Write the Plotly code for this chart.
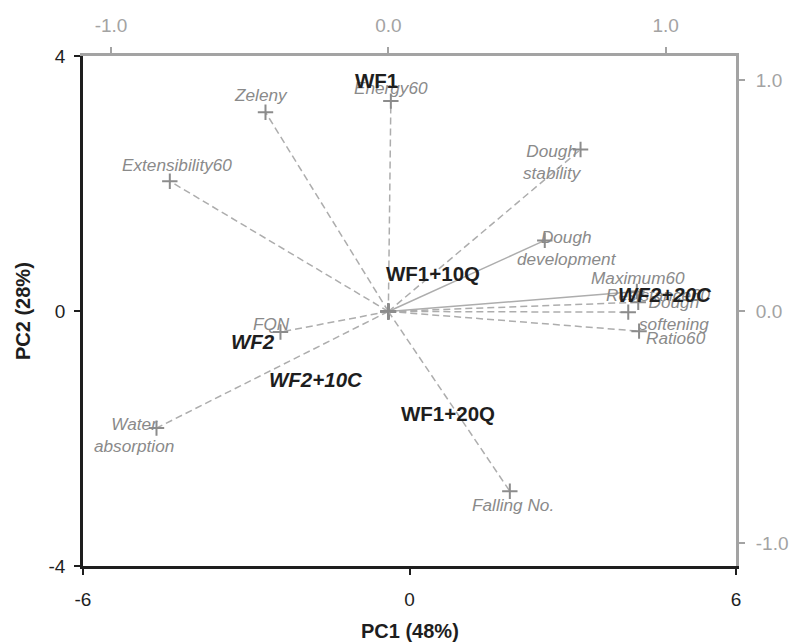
import plotly.graph_objects as go

# ---- Data ----
# Variable loadings (secondary axes, top/right)
var_names = ["Zeleny", "Energy60", "Extensibility60", "Dough<br>stability",
             "Dough<br>development", "Maximum60", "Resistance60",
             "Dough<br>softening", "Ratio60", "FQN", "Water<br>absorption",
             "Falling No."]
load_pc1 = [-0.443, 0.009, -0.788, 0.693, 0.564, 0.896, 0.901, 0.865, 0.904, -0.389, -0.836, 0.438]
load_pc2 = [0.861, 0.909, 0.563, 0.700, 0.307, 0.086, 0.040, -0.003, -0.085, -0.089, -0.504, -0.777]
solid_vars = ["Dough<br>development", "Maximum60"]
origin = [0.0, 0.0]

# Sample scores (primary axes, bottom/left)
samples = ["WF1", "WF1+10Q", "WF1+20Q", "WF2", "WF2+10C", "WF2+20C"]
score_pc1 = [-0.60, 0.44, 0.71, -2.87, -1.71, 4.69]
score_pc2 = [3.62, 0.59, -1.60, -0.48, -1.07, 0.26]

x_ticks = [-6, 0, 6]
y_ticks = [-4, 0, 4]
x2_ticks = [-1.0, 0.0, 1.0]
y2_ticks = [-1.0, 0.0, 1.0]

# ---- Styles ----
FONT = "Liberation Sans, Arial, sans-serif"
GRAY_LINE = "#adadad"
GRAY_MARK = "#8c8c8c"
GRAY_TEXT = "#8a8a8a"
AX_GRAY = "#a3a3a3"
BLACK = "#1e1e1e"

# label offsets (pixels) for loading labels
label_shift = {
    "Zeleny": (-4, 17), "Energy60": (0, 13), "Extensibility60": (7, 16),
    "Dough<br>stability": (-28, -13), "Dough<br>development": (22, -8),
    "Maximum60": (1, 14), "Resistance60": (20, 7), "Dough<br>softening": (46, -1),
    "Ratio60": (37, -7), "FQN": (-9, 8), "Water<br>absorption": (-23, -7),
    "Falling No.": (3, -14),
}

fig = go.Figure()

# invisible trace to activate primary axes
fig.add_trace(go.Scatter(x=score_pc1, y=score_pc2, mode="markers",
                         marker=dict(opacity=0), hoverinfo="skip",
                         showlegend=False, xaxis="x", yaxis="y"))

for name, lx, ly in zip(var_names, load_pc1, load_pc2):
    dash = "solid" if name in solid_vars else "7px,4px"
    fig.add_trace(go.Scatter(
        x=[origin[0], lx], y=[origin[1], ly], mode="lines+markers",
        line=dict(color=GRAY_LINE, width=1.5, dash=dash),
        marker=dict(symbol="cross-thin", size=11,
                    line=dict(color=GRAY_MARK, width=2), color=GRAY_MARK),
        showlegend=False, xaxis="x2", yaxis="y2", hoverinfo="skip"))

annotations = []
for name, lx, ly in zip(var_names, load_pc1, load_pc2):
    dx, dy = label_shift[name]
    annotations.append(dict(
        x=lx, y=ly, xref="x2", yref="y2", text="<i>%s</i>" % name,
        showarrow=False, xshift=dx, yshift=dy, align="center",
        font=dict(family=FONT, size=17.2, color=GRAY_TEXT)))

for s, sx, sy in zip(samples, score_pc1, score_pc2):
    txt = "<b>%s</b>" % s
    if s.startswith("WF2"):
        txt = "<b><i>%s</i></b>" % s
    annotations.append(dict(
        x=sx, y=sy, xref="x", yref="y", text=txt, showarrow=False,
        font=dict(family=FONT, size=20.5, color=BLACK)))

# axis titles
annotations.append(dict(x=0.5, y=0, xref="paper", yref="paper", yshift=-65,
                        xanchor="center", yanchor="middle",
                        text="<b>PC1 (48%)</b>", showarrow=False,
                        font=dict(family=FONT, size=20, color=BLACK)))
annotations.append(dict(x=0, y=0.5, xref="paper", yref="paper", xshift=-60,
                        xanchor="center", yanchor="middle",
                        text="<b>PC2 (28%)</b>", showarrow=False, textangle=-90,
                        font=dict(family=FONT, size=20, color=BLACK)))

tickfont_black = dict(family=FONT, size=19, color=BLACK)
tickfont_gray = dict(family=FONT, size=19, color=AX_GRAY)

fig.update_layout(
    width=790, height=643,
    margin=dict(l=83, r=54, t=56, b=77, pad=0),
    paper_bgcolor="white", plot_bgcolor="white",
    showlegend=False,
    annotations=annotations,
    xaxis=dict(range=[-6, 6], tickvals=x_ticks, ticktext=[str(v) for v in x_ticks],
               showgrid=False, zeroline=False, showline=True, linecolor=BLACK,
               linewidth=2.5, ticks="outside", ticklen=6, tickwidth=2,
               tickcolor=BLACK, tickfont=tickfont_black, ticklabelstandoff=8,
               automargin=False),
    yaxis=dict(range=[-4, 4], tickvals=y_ticks, ticktext=[str(v) for v in y_ticks],
               showgrid=False, zeroline=False, showline=True, linecolor=BLACK,
               linewidth=2.5, ticks="outside", ticklen=6, tickwidth=2,
               tickcolor=BLACK, tickfont=tickfont_black, ticklabelstandoff=5,
               automargin=False),
    xaxis2=dict(range=[-1.101, 1.2535], overlaying="x", side="top", anchor="y",
                tickvals=x2_ticks, ticktext=["%.1f" % v for v in x2_ticks],
                showgrid=False, zeroline=False, showline=True, linecolor=AX_GRAY,
                linewidth=3, ticks="outside", ticklen=6, tickwidth=2,
                tickcolor=AX_GRAY, tickfont=tickfont_gray, ticklabelstandoff=7,
                automargin=False),
    yaxis2=dict(range=[-1.1, 1.104], overlaying="y", side="right", anchor="x",
                tickvals=y2_ticks, ticktext=["%.1f" % v for v in y2_ticks],
                showgrid=False, zeroline=False, showline=True, linecolor=AX_GRAY,
                linewidth=3, ticks="outside", ticklen=6, tickwidth=2,
                tickcolor=AX_GRAY, tickfont=tickfont_gray, ticklabelstandoff=7,
                automargin=False),
)

fig.write_html("out.html", config={"displayModeBar": False},
               post_script="document.body.style.margin='0px';")
